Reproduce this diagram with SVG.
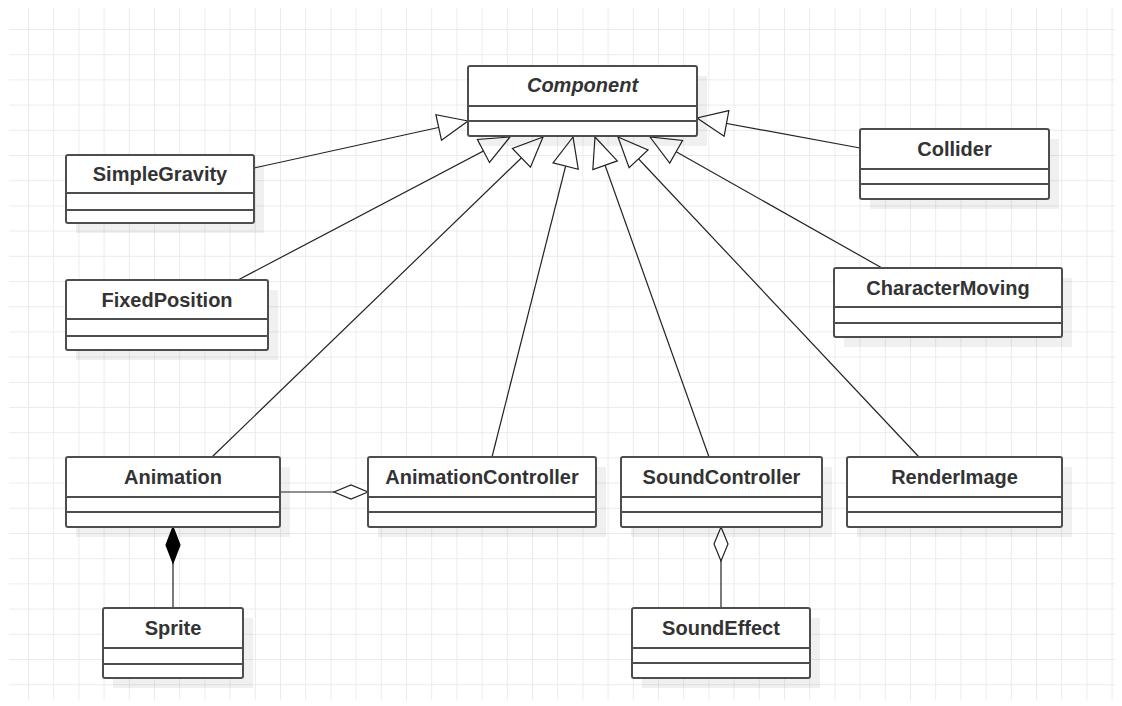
<svg xmlns="http://www.w3.org/2000/svg" width="1122" height="706" viewBox="0 0 1122 706">
<style>
.box{fill:#fff;stroke:#4d4d4d;stroke-width:2}
.div{stroke:#4d4d4d;stroke-width:2}
.sh{fill:#000;fill-opacity:0.06}
.lbl{font-family:"Liberation Sans",Arial,sans-serif;font-size:20px;font-weight:bold;fill:#333;text-anchor:middle}
.it{font-style:italic}
.con{fill:none;stroke:#222;stroke-width:1.2}
</style>
<defs>
<pattern id="grid" patternUnits="userSpaceOnUse" x="28" y="29" width="25.2" height="25.2">
<path d="M0.5,0 V25.2 M0,0.5 H25.2" fill="none" stroke="#ebebeb" stroke-width="1"/>
</pattern>
<marker id="gen" markerUnits="userSpaceOnUse" orient="auto" refX="0" refY="0" markerWidth="40" markerHeight="40" overflow="visible">
<path d="M0,0 L-30,-13 L-30,13 Z" fill="#fff" stroke="#222" stroke-width="1.2"/>
</marker>
<marker id="agg" markerUnits="userSpaceOnUse" orient="auto" refX="0" refY="0" markerWidth="40" markerHeight="40" overflow="visible">
<path d="M0,0 L17,-7 L34,0 L17,7 Z" fill="#fff" stroke="#222" stroke-width="1.2"/>
</marker>
<marker id="comp" markerUnits="userSpaceOnUse" orient="auto" refX="0" refY="0" markerWidth="40" markerHeight="40" overflow="visible">
<path d="M0,0 L18,-7 L36,0 L18,7 Z" fill="#000" stroke="#000" stroke-width="1.2"/>
</marker>
</defs>
<rect x="0" y="0" width="1122" height="706" fill="#fff"/>
<rect x="9" y="8" width="1106" height="692" fill="url(#grid)"/>

<g id="connectors">
<path class="con" d="M254,168 L468,121" marker-end="url(#gen)"/>
<path class="con" d="M860,148 L697,118" marker-end="url(#gen)"/>
<path class="con" d="M238,280 L510,137" marker-end="url(#gen)"/>
<path class="con" d="M212,457 L543,137" marker-end="url(#gen)"/>
<path class="con" d="M492,457 L573,137" marker-end="url(#gen)"/>
<path class="con" d="M709,457 L595,137" marker-end="url(#gen)"/>
<path class="con" d="M919,457 L618,137" marker-end="url(#gen)"/>
<path class="con" d="M882,268 L650,137" marker-end="url(#gen)"/>
<path class="con" d="M368,492 L280,492" marker-start="url(#agg)"/>
<path class="con" d="M173,527 L173,608" marker-start="url(#comp)"/>
<path class="con" d="M721,527 L721,608" marker-start="url(#agg)"/>
</g>

<g id="Component">
<rect class="sh" x="478" y="76" width="229" height="70"/>
<rect class="box" x="468" y="66" width="229" height="70" rx="2"/>
<line class="div" x1="468" y1="106" x2="697" y2="106"/>
<line class="div" x1="468" y1="121" x2="697" y2="121"/>
<text class="lbl it" x="582.5" y="92">Component</text>
</g>
<g id="SimpleGravity">
<rect class="sh" x="76" y="165" width="188" height="68"/>
<rect class="box" x="66" y="155" width="188" height="68" rx="2"/>
<line class="div" x1="66" y1="193" x2="254" y2="193"/>
<line class="div" x1="66" y1="210" x2="254" y2="210"/>
<text class="lbl" x="160" y="181">SimpleGravity</text>
</g>
<g id="Collider">
<rect class="sh" x="870" y="139" width="189" height="70"/>
<rect class="box" x="860" y="129" width="189" height="70" rx="2"/>
<line class="div" x1="860" y1="169" x2="1049" y2="169"/>
<line class="div" x1="860" y1="184" x2="1049" y2="184"/>
<text class="lbl" x="954.5" y="156">Collider</text>
</g>
<g id="FixedPosition">
<rect class="sh" x="76" y="290" width="202" height="70"/>
<rect class="box" x="66" y="280" width="202" height="70" rx="2"/>
<line class="div" x1="66" y1="319" x2="268" y2="319"/>
<line class="div" x1="66" y1="336" x2="268" y2="336"/>
<text class="lbl" x="167" y="307">FixedPosition</text>
</g>
<g id="CharacterMoving">
<rect class="sh" x="844" y="278" width="228" height="69"/>
<rect class="box" x="834" y="268" width="228" height="69" rx="2"/>
<line class="div" x1="834" y1="307" x2="1062" y2="307"/>
<line class="div" x1="834" y1="323" x2="1062" y2="323"/>
<text class="lbl" x="948" y="295">CharacterMoving</text>
</g>
<g id="Animation">
<rect class="sh" x="76" y="467" width="214" height="70"/>
<rect class="box" x="66" y="457" width="214" height="70" rx="2"/>
<line class="div" x1="66" y1="497" x2="280" y2="497"/>
<line class="div" x1="66" y1="512" x2="280" y2="512"/>
<text class="lbl" x="173" y="484">Animation</text>
</g>
<g id="AnimationController">
<rect class="sh" x="378" y="467" width="228" height="70"/>
<rect class="box" x="368" y="457" width="228" height="70" rx="2"/>
<line class="div" x1="368" y1="497" x2="596" y2="497"/>
<line class="div" x1="368" y1="512" x2="596" y2="512"/>
<text class="lbl" x="482" y="484">AnimationController</text>
</g>
<g id="SoundController">
<rect class="sh" x="631" y="467" width="201" height="70"/>
<rect class="box" x="621" y="457" width="201" height="70" rx="2"/>
<line class="div" x1="621" y1="497" x2="822" y2="497"/>
<line class="div" x1="621" y1="512" x2="822" y2="512"/>
<text class="lbl" x="721.5" y="484">SoundController</text>
</g>
<g id="RenderImage">
<rect class="sh" x="857" y="467" width="215" height="70"/>
<rect class="box" x="847" y="457" width="215" height="70" rx="2"/>
<line class="div" x1="847" y1="497" x2="1062" y2="497"/>
<line class="div" x1="847" y1="512" x2="1062" y2="512"/>
<text class="lbl" x="954.5" y="484">RenderImage</text>
</g>
<g id="Sprite">
<rect class="sh" x="113" y="618" width="140" height="70"/>
<rect class="box" x="103" y="608" width="140" height="70" rx="2"/>
<line class="div" x1="103" y1="648" x2="243" y2="648"/>
<line class="div" x1="103" y1="664" x2="243" y2="664"/>
<text class="lbl" x="173" y="635">Sprite</text>
</g>
<g id="SoundEffect">
<rect class="sh" x="642" y="618" width="178" height="70"/>
<rect class="box" x="632" y="608" width="178" height="70" rx="2"/>
<line class="div" x1="632" y1="648" x2="810" y2="648"/>
<line class="div" x1="632" y1="663" x2="810" y2="663"/>
<text class="lbl" x="721" y="635">SoundEffect</text>
</g>
</svg>
